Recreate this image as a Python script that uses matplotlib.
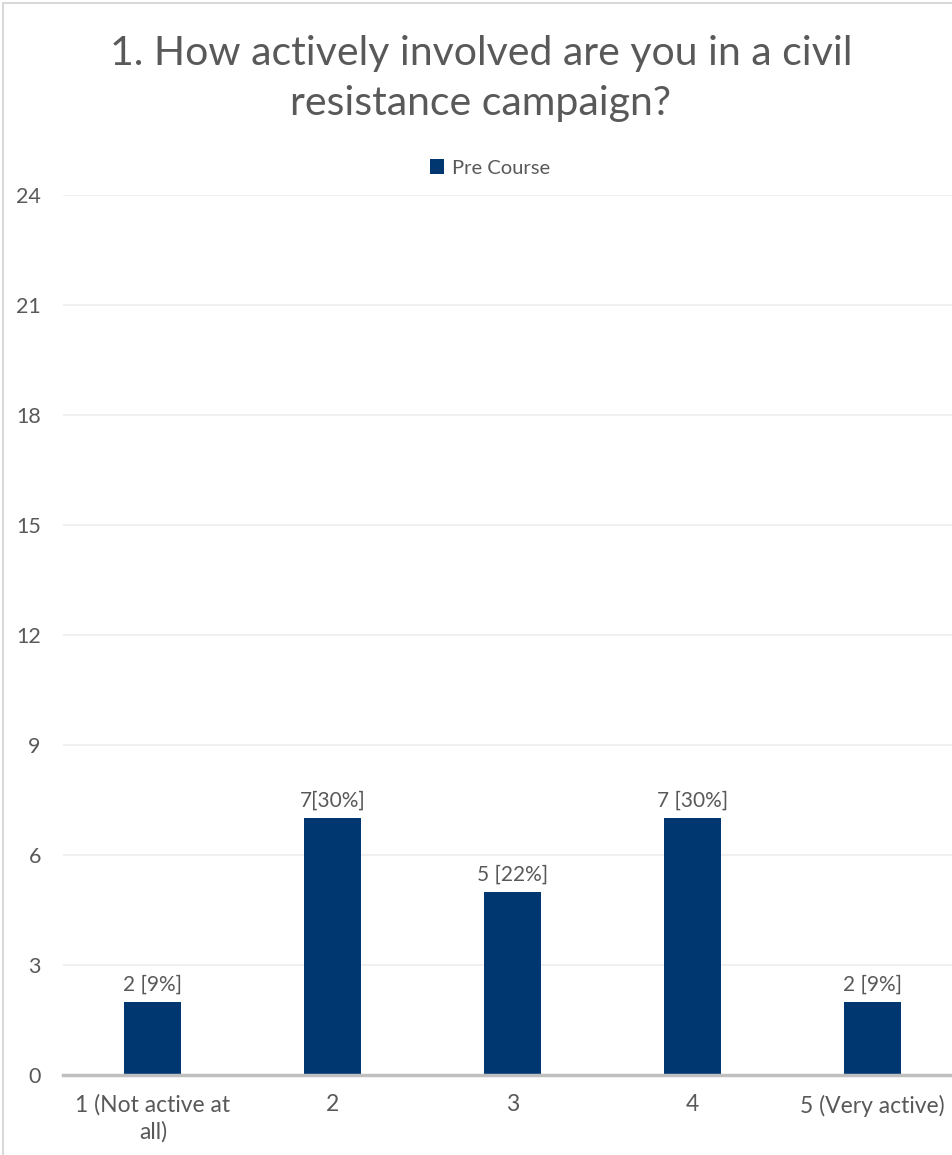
import matplotlib.pyplot as plt
from matplotlib.patches import Rectangle

plt.rcParams['font.family'] = ['Lato', 'DejaVu Sans']

categories = ["1 (Not active at\nall)", "2", "3", "4", "5 (Very active)"]
pre_course = [2, 7, 5, 7, 2]
labels = ["2 [9%]", "7[30%]", "5 [22%]", "7 [30%]", "2 [9%]"]
y_ticks = [0, 3, 6, 9, 12, 15, 18, 21, 24]

bar_color = "#003771"
text_color = "#595959"

W, H = 953, 1155
fig = plt.figure(figsize=(W / 100, H / 100), dpi=100)

# axes extends a bit past the right edge of the figure
ax = fig.add_axes([63 / W, (H - 1075) / H, 899 / W, 880 / H])
x = list(range(len(categories)))
bars = ax.bar(x, pre_course, width=0.317, color=bar_color, label="Pre Course", zorder=3)

for b, lab in zip(bars, labels):
    ax.text(b.get_x() + b.get_width() / 2, b.get_height() + 0.2, lab,
            ha="center", va="bottom", fontsize=15, color=text_color)

ax.set_xlim(-0.5, len(categories) - 0.5)
ax.set_ylim(0, 24)
ax.set_yticks(y_ticks)
ax.set_xticks(x)
ax.set_xticklabels(categories, fontsize=16.5, color=text_color, linespacing=1.3)
ax.tick_params(axis="y", labelsize=15.5, labelcolor=text_color, length=0, pad=16)
ax.tick_params(axis="x", length=0, pad=14)
ax.grid(axis="y", color="#EDEDED", linewidth=1.2, zorder=0)
for s in ["top", "right", "left"]:
    ax.spines[s].set_visible(False)
ax.spines["bottom"].set_color("#BFBFBF")
ax.spines["bottom"].set_linewidth(2.5)
ax.spines["bottom"].set_zorder(4)

fig.text(481 / W, 1 - 53 / H, "1. How actively involved are you in a civil",
         ha="center", va="center", fontsize=29.5, color=text_color)
fig.text(481 / W, 1 - 104 / H, "resistance campaign?",
         ha="center", va="center", fontsize=29.5, color=text_color)

fig.legend(handles=[bars], labels=["Pre Course"], loc="center",
           bbox_to_anchor=(490 / W, 1 - 168 / H), frameon=False, fontsize=14.5,
           labelcolor=text_color, handlelength=0.7, handleheight=0.7, handletextpad=0.4)

# light chart frame
fig.patches.append(Rectangle((3 / W, -0.01), 1.1, 1 - 3 / H + 0.01, transform=fig.transFigure,
                             fill=False, edgecolor="#D9D9D9", linewidth=1.5))

fig.savefig("out.png", dpi=100)
